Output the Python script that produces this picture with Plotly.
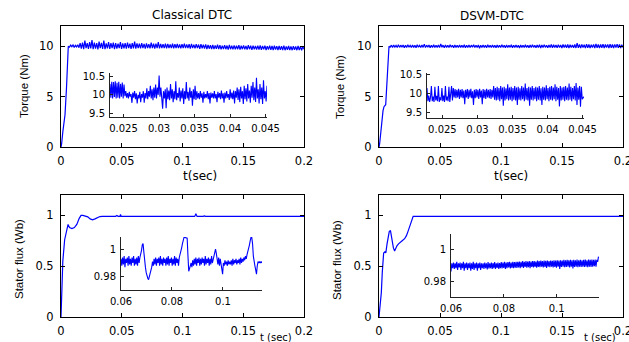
import numpy as np
import plotly.graph_objects as go

W, H = 629, 342

# ---------------- DATA ----------------
# Torque, classical DTC: start-up ramp then noisy band
t_rise_c = [0, 0.0005, 0.0015, 0.0033, 0.0045, 0.0055, 0.006]
T_rise_c = [0, 0.3, 1.5, 3.2, 5.8, 9.4, 9.9]
T_band_c = [
    10.0, 9.9, 10.1, 9.95, 10.12, 9.88, 10.08, 9.92, 10.15, 9.85, 10.3, 9.75, 10.35, 9.7, 10.55, 9.8, 10.3, 9.72, 10.4, 9.78,
    10.6, 9.7, 10.35, 9.75, 10.3, 9.68, 10.45, 9.8, 10.32, 9.72, 10.55, 9.7, 10.28, 9.78, 10.4, 9.74, 10.3, 9.8, 10.35, 9.7,
    10.3, 9.75, 10.25, 9.8, 10.4, 9.72, 10.28, 9.78, 10.3, 9.75, 10.35, 9.8, 10.25, 9.74, 10.3, 9.78, 10.45, 9.76, 10.28, 9.8,
    10.25, 9.78, 10.3, 9.8, 10.22, 9.76, 10.28, 9.82, 10.2, 9.78, 10.35, 9.8, 10.24, 9.77, 10.26, 9.8, 10.4, 9.78, 10.22, 9.82,
    10.2, 9.8, 10.25, 9.78, 10.22, 9.82, 10.18, 9.8, 10.24, 9.78, 10.2, 9.82, 10.22, 9.8, 10.18, 9.78, 10.2, 9.82, 10.25, 9.8,
    10.18, 9.8, 10.2, 9.76, 10.22, 9.8, 10.15, 9.78, 10.2, 9.8, 10.16, 9.74, 10.2, 9.78, 10.15, 9.76, 10.18, 9.72, 10.12, 9.75,
    10.1, 9.72, 10.12, 9.7, 10.08, 9.74, 10.15, 9.7, 10.1, 9.68, 10.05, 9.72, 10.1, 9.7, 10.06, 9.66, 10.12, 9.7, 10.05, 9.68,
    10.08, 9.68, 10.05, 9.7, 10.1, 9.66, 10.04, 9.7, 10.08, 9.68, 10.02, 9.66, 10.1, 9.7, 10.05, 9.64, 10.06, 9.68, 10.02, 9.66,
    10.05, 9.66, 10.08, 9.64, 10.02, 9.68, 10.05, 9.62, 10.0, 9.66, 10.06, 9.64, 10.02, 9.62, 10.04, 9.66, 10.0, 9.62, 10.03, 9.64,
    10.0, 9.62, 10.04, 9.6, 9.98, 9.64, 10.02, 9.62, 9.98, 9.6, 10.0, 9.64, 9.98, 9.6, 10.02, 9.62, 9.96, 9.6, 9.98, 9.7,
]
t_band_c = np.linspace(0.006, 0.2, len(T_band_c))

# Torque, DSVM-DTC
t_rise_d = [0, 0.0005, 0.0033, 0.0041, 0.0055, 0.0066, 0.0074, 0.0082]
T_rise_d = [0, 0.3, 3.6, 4.0, 4.2, 6.6, 8.8, 9.95]
T_band_d = [
    10.0, 9.9, 10.1, 9.88, 10.12, 9.9, 10.08, 9.86, 10.15, 9.88, 10.1, 9.9, 10.12, 9.85, 10.1, 9.88, 10.14, 9.9, 10.08, 9.86,
    10.12, 9.88, 10.1, 9.84, 10.15, 9.9, 10.08, 9.86, 10.12, 9.88, 10.2, 9.86, 10.1, 9.9, 10.12, 9.84, 10.1, 9.88, 10.14, 9.86,
    10.1, 9.88, 10.12, 9.86, 10.22, 9.9, 10.1, 9.84, 10.12, 9.88, 10.1, 9.86, 10.14, 9.9, 10.08, 9.84, 10.12, 9.88, 10.1, 9.86,
    10.12, 9.88, 10.1, 9.86, 10.14, 9.84, 10.1, 9.88, 10.12, 9.86, 10.1, 9.9, 10.15, 9.86, 10.1, 9.88, 10.12, 9.8, 10.1, 9.86,
    10.12, 9.88, 10.1, 9.85, 10.14, 9.88, 10.1, 9.86, 10.12, 9.88, 10.1, 9.84, 10.12, 9.88, 10.1, 9.86, 10.14, 9.88, 10.1, 9.85,
    10.12, 9.86, 10.1, 9.88, 10.14, 9.84, 10.1, 9.88, 10.12, 9.86, 10.1, 9.82, 10.12, 9.88, 10.1, 9.86, 10.14, 9.88, 10.1, 9.84,
    10.12, 9.86, 10.14, 9.88, 10.1, 9.84, 10.12, 9.86, 10.15, 9.82, 10.12, 9.86, 10.14, 9.88, 10.1, 9.84, 10.12, 9.86, 10.16, 9.84,
    10.14, 9.86, 10.12, 9.84, 10.15, 9.86, 10.12, 9.82, 10.16, 9.86, 10.14, 9.84, 10.18, 9.82, 10.14, 9.86, 10.12, 9.84, 10.16, 9.82,
    10.3, 9.84, 10.16, 9.82, 10.18, 9.86, 10.14, 9.8, 10.2, 9.84, 10.16, 9.82, 10.14, 9.86, 10.18, 9.8, 10.22, 9.84, 10.16, 9.82,
    10.18, 9.84, 10.2, 9.82, 10.16, 9.86, 10.18, 9.82, 10.2, 9.84, 10.16, 9.82, 10.18, 9.86, 10.2, 9.84, 10.16, 9.82, 10.14, 9.86,
]
t_band_d = np.linspace(0.0082, 0.2, len(T_band_d))

# Torque zoom, classical (0.0231 .. 0.0452 s)
Tz_c = [
    10.3, 9.92, 10.36, 9.9, 10.35, 9.94, 10.37, 9.9, 10.33, 9.92, 10.36, 9.9, 10.3, 9.95, 10.34, 9.9, 10.28, 9.96, 10.1, 9.92,
    10.05, 9.9, 10.08, 9.95, 10.02, 9.78, 10.06, 9.92, 10.1, 9.88, 10.04, 9.76, 10.0, 9.9, 10.08, 9.8, 10.02, 9.92, 10.1, 9.78,
    10.05, 9.9, 10.18, 9.88, 10.1, 9.95, 10.25, 9.9, 10.15, 9.85, 10.2, 9.92, 10.28, 9.9, 10.2, 10.0, 10.53, 9.95, 10.2, 9.85,
    9.62, 10.1, 9.9, 10.15, 9.63, 10.2, 9.88, 10.12, 9.85, 10.3, 9.9, 10.15, 9.8, 10.1, 9.88, 10.37, 9.85, 10.05, 9.92, 10.2,
    9.82, 10.12, 9.9, 10.18, 9.75, 10.1, 9.88, 10.35, 9.9, 10.08, 9.84, 10.2, 9.92, 10.1, 9.7, 10.15, 9.88, 10.25, 9.86, 10.1,
    9.9, 10.05, 9.88, 10.1, 9.92, 10.04, 9.78, 10.08, 9.9, 10.02, 9.92, 10.1, 9.88, 10.05, 9.76, 10.06, 9.92, 10.04, 9.9, 10.1,
    9.9, 10.02, 9.8, 10.08, 9.92, 10.05, 9.88, 10.12, 9.9, 10.04, 9.78, 10.06, 9.9, 10.1, 9.92, 10.02, 9.86, 10.15, 9.9, 10.06,
    9.88, 10.12, 9.76, 10.1, 9.92, 10.2, 9.86, 10.15, 9.8, 10.22, 9.9, 10.1, 9.75, 10.25, 9.88, 10.18, 9.82, 10.3, 9.9, 10.12,
    9.78, 10.25, 9.92, 10.35, 9.85, 10.2, 9.8, 10.47, 9.9, 10.15, 9.76, 10.3, 9.88, 10.2, 9.75, 10.4, 9.9, 10.1, 9.82, 10.25,
]
tz_c = np.linspace(0.0231, 0.0452, len(Tz_c))

# Torque zoom, DSVM (0.0228 .. 0.0452 s)
Tz_d = [
    10.15, 9.8, 9.95, 9.78, 9.9, 10.2, 9.8, 9.92, 9.78, 10.18, 9.82, 9.94, 9.8, 10.2, 9.78, 9.9, 9.82, 10.15, 9.8, 9.95,
    9.78, 10.2, 9.82, 9.92, 9.8, 10.18, 9.78, 9.95, 10.2, 9.82, 10.15, 9.9, 10.12, 9.88, 10.1, 9.9, 10.13, 9.86, 10.1, 9.9,
    10.12, 9.88, 10.08, 9.72, 10.1, 9.9, 10.12, 9.86, 10.1, 9.9, 10.13, 9.88, 10.06, 9.7, 10.1, 9.88, 10.12, 9.9, 10.1, 9.86,
    10.13, 9.9, 10.08, 9.72, 10.12, 9.88, 10.1, 9.86, 10.13, 9.9, 10.1, 9.88, 10.12, 9.86, 10.1, 9.9, 10.2, 9.84, 10.15, 9.82,
    10.18, 9.84, 10.15, 9.8, 10.2, 9.85, 10.16, 9.68, 10.18, 9.82, 10.14, 9.85, 10.25, 9.82, 10.16, 9.84, 10.18, 9.8, 10.15, 9.84,
    10.2, 9.82, 10.16, 9.7, 10.18, 9.84, 10.14, 9.82, 10.2, 9.85, 10.16, 9.8, 10.27, 9.84, 10.15, 9.82, 10.18, 9.68, 10.16, 9.84,
    10.2, 9.82, 10.15, 9.85, 10.18, 9.8, 10.16, 9.84, 10.2, 9.82, 10.14, 9.7, 10.18, 9.84, 10.16, 9.82, 10.22, 9.85, 10.15, 9.8,
    10.18, 9.84, 10.2, 9.82, 10.16, 9.85, 10.25, 9.8, 10.18, 9.84, 10.15, 9.66, 10.2, 9.82, 10.16, 9.84, 10.18, 9.8, 10.2, 9.84,
    10.16, 9.82, 10.27, 9.84, 10.18, 9.8, 10.15, 9.85, 10.2, 9.82, 10.28, 9.7, 10.16, 9.84, 10.2, 9.65, 10.18, 9.85, 9.9, 9.92,
]
tz_d = np.linspace(0.0228, 0.0452, len(Tz_d))

# Stator flux, classical DTC
t_fc = [0, 0.0007, 0.0015, 0.003, 0.0045, 0.0058, 0.007, 0.009, 0.011, 0.013,
        0.015, 0.0165, 0.018, 0.020, 0.022, 0.024, 0.026, 0.028, 0.030, 0.032,
        0.034, 0.040, 0.041, 0.042, 0.045, 0.046, 0.047, 0.0485, 0.049, 0.0495,
        0.058, 0.059, 0.060, 0.061, 0.062, 0.067, 0.068, 0.069, 0.074, 0.075,
        0.076, 0.082, 0.083, 0.084, 0.087, 0.088, 0.089, 0.099, 0.100, 0.101,
        0.110, 0.1105, 0.111, 0.1115, 0.112, 0.117, 0.118, 0.119, 0.139, 0.140,
        0.141, 0.154, 0.155, 0.156, 0.167, 0.168, 0.169, 0.178, 0.179, 0.180,
        0.189, 0.190, 0.191, 0.2]
F_c = [0, 0.3, 0.55, 0.76, 0.86, 0.91, 0.88, 0.87, 0.88, 0.91,
       0.97, 1.0, 1.0, 0.995, 0.985, 0.965, 0.955, 0.965, 0.978, 0.988,
       0.99, 0.99, 0.996, 0.99, 0.99, 0.998, 0.99, 0.99, 1.01, 0.99,
       0.99, 0.995, 0.99, 0.997, 0.99, 0.99, 0.995, 0.99, 0.99, 0.997,
       0.99, 0.99, 0.995, 0.99, 0.99, 0.997, 0.99, 0.99, 0.995, 0.99,
       0.99, 1.0, 1.015, 1.0, 0.99, 0.99, 0.995, 0.99, 0.99, 0.995,
       0.99, 0.99, 0.997, 0.99, 0.99, 0.996, 0.99, 0.99, 0.996, 0.99,
       0.99, 0.995, 0.99, 0.99]

# Stator flux, DSVM-DTC
t_fd = [0, 0.0005, 0.0019, 0.0027, 0.0038, 0.0048, 0.0056, 0.0066, 0.0076, 0.0084,
        0.0094, 0.0105, 0.0118, 0.0128, 0.0138, 0.0147, 0.016, 0.0175, 0.019, 0.021,
        0.0225, 0.024, 0.0255, 0.027, 0.028, 0.05, 0.0505, 0.051, 0.115, 0.1155,
        0.116, 0.12, 0.1205, 0.121, 0.165, 0.1655, 0.166, 0.2]
F_d = [0, 0.05, 0.24, 0.44, 0.63, 0.64, 0.63, 0.72, 0.8, 0.84,
       0.85, 0.76, 0.68, 0.65, 0.68, 0.7, 0.72, 0.74, 0.75, 0.77,
       0.8, 0.85, 0.91, 0.96, 0.99, 0.99, 0.993, 0.99, 0.99, 0.994,
       0.99, 0.99, 0.993, 0.99, 0.99, 0.994, 0.99, 0.99]

# Flux zoom, classical (0.06 .. 0.1153 s)
Fz_c = [
    0.993, 0.988, 0.994, 0.989, 0.995, 0.987, 0.993, 0.99, 0.994, 0.988, 0.995, 0.989, 0.993, 0.988, 0.994, 0.99, 0.995, 0.988, 0.993, 0.989,
    0.994, 0.988, 0.995, 0.99, 0.994, 0.996, 0.999, 1.003, 1.004, 0.998, 0.99, 0.987, 0.983, 0.98, 0.979, 0.978, 0.98, 0.982, 0.985, 0.987,
    0.991, 0.988, 0.993, 0.989, 0.994, 0.988, 0.993, 0.99, 0.994, 0.988, 0.995, 0.989, 0.993, 0.988, 0.994, 0.99, 0.993, 0.988, 0.994, 0.989,
    0.995, 0.988, 0.993, 0.99, 0.994, 0.988, 0.993, 0.989, 0.995, 0.988, 0.994, 0.99, 0.993, 0.988, 0.994, 0.996, 0.999, 1.001, 1.004, 1.008,
    1.0085, 1.0085, 1.0085, 1.0085, 1.008, 0.995, 0.984, 0.986, 0.988, 0.99, 0.987, 0.992, 0.988, 0.993, 0.989, 0.994, 0.988, 0.993, 0.99, 0.994,
    0.988, 0.993, 0.989, 0.994, 0.99, 0.993, 0.988, 0.995, 0.989, 0.993, 0.99, 0.994, 0.988, 0.993, 0.989, 0.995, 0.99, 0.993, 0.996, 0.998,
    1.0, 0.997, 0.992, 0.989, 0.994, 0.988, 0.993, 0.99, 0.986, 0.982, 0.99, 0.988, 0.992, 0.989, 0.991, 0.988, 0.992, 0.989, 0.991, 0.989,
    0.992, 0.988, 0.993, 0.989, 0.992, 0.99, 0.993, 0.989, 0.992, 0.99, 0.993, 0.989, 0.994, 0.99, 0.993, 0.991, 0.994, 0.992, 0.995, 0.993,
    0.996, 0.998, 1.001, 1.003, 1.006, 1.0085, 1.0085, 1.004, 0.995, 0.99, 0.988, 0.985, 0.982, 0.988, 0.991, 0.99, 0.991, 0.99, 0.991, 0.99,
]
fz_c = np.linspace(0.06, 0.1153, len(Fz_c))

# Flux zoom, DSVM (0.06 .. 0.1158 s)
Fz_d = [
    0.986, 0.991, 0.988, 0.9915, 0.9875, 0.991, 0.988, 0.992, 0.987, 0.991, 0.9885, 0.9915, 0.987, 0.991, 0.988, 0.992, 0.9865, 0.991, 0.988, 0.9915,
    0.987, 0.991, 0.988, 0.9915, 0.9865, 0.991, 0.9875, 0.992, 0.987, 0.991, 0.988, 0.9915, 0.9865, 0.991, 0.988, 0.9915, 0.987, 0.991, 0.988, 0.991,
    0.9875, 0.9915, 0.988, 0.991, 0.9872, 0.9918, 0.9878, 0.991, 0.988, 0.9915, 0.9875, 0.9912, 0.988, 0.9918, 0.9876, 0.991, 0.9882, 0.9915, 0.9875, 0.9912,
    0.988, 0.9918, 0.9878, 0.9915, 0.9882, 0.992, 0.9876, 0.9915, 0.988, 0.9918, 0.9885, 0.992, 0.9878, 0.9916, 0.9882, 0.992, 0.988, 0.9918, 0.9884, 0.992,
    0.9882, 0.992, 0.9885, 0.9922, 0.988, 0.992, 0.9886, 0.9924, 0.9882, 0.992, 0.9888, 0.9925, 0.9884, 0.9922, 0.9886, 0.9925, 0.988, 0.9922, 0.9888, 0.9925,
    0.9885, 0.9925, 0.9888, 0.9922, 0.9884, 0.9928, 0.9888, 0.9925, 0.9886, 0.9928, 0.989, 0.9925, 0.9885, 0.9928, 0.9888, 0.9926, 0.9882, 0.9928, 0.989, 0.9925,
    0.9886, 0.9928, 0.989, 0.9926, 0.9885, 0.993, 0.9888, 0.9928, 0.9884, 0.993, 0.989, 0.9928, 0.9876, 0.993, 0.9888, 0.9928, 0.989, 0.9932, 0.9886, 0.993,
    0.9888, 0.9932, 0.989, 0.993, 0.9885, 0.9932, 0.989, 0.993, 0.9878, 0.9932, 0.9888, 0.993, 0.989, 0.9934, 0.9886, 0.993, 0.989, 0.9932, 0.9888, 0.993,
    0.989, 0.9932, 0.9888, 0.9934, 0.989, 0.993, 0.9886, 0.9934, 0.989, 0.9932, 0.9888, 0.9934, 0.989, 0.9932, 0.9892, 0.9934, 0.989, 0.9932, 0.992, 0.9952,
]
fz_d = np.linspace(0.06, 0.1158, len(Fz_d))

assert len(t_rise_c) == len(T_rise_c) and len(t_rise_d) == len(T_rise_d)
assert len(t_fc) == len(F_c) and len(t_fd) == len(F_d)

# tick labels
main_t_ticks = [0, 0.05, 0.1, 0.15, 0.2]
main_t_text = ["0", "0.05", "0.1", "0.15", "0.2"]
torque_ticks = [0, 5, 10]
flux_ticks = [0, 0.5, 1]
flux_text = ["0", "0.5", "1"]
tz_ticks = [0.025, 0.03, 0.035, 0.04, 0.045]
tz_text = ["0.025", "0.03", "0.035", "0.04", "0.045"]
tzy_ticks = [9.5, 10, 10.5]
tzy_text = ["9.5", "10", "10.5"]
fz_ticks = [0.06, 0.08, 0.1]
fz_text = ["0.06", "0.08", "0.1"]
fzy_ticks = [0.98, 1.0]
fzy_text = ["0.98", "1"]

# ---------------- FIGURE ----------------
BLUE = "#0000ff"
FONT = "DejaVu Sans"
fig = go.Figure()

def line(x, y, n, w=1.2):
    ax = "" if n == 1 else str(n)
    fig.add_trace(go.Scatter(x=x, y=y, mode="lines", line=dict(color=BLUE, width=w),
                             xaxis="x" + ax, yaxis="y" + ax, showlegend=False, hoverinfo="skip"))

line(list(t_rise_c) + list(t_band_c), list(T_rise_c) + list(T_band_c), 1)
line(list(t_rise_d) + list(t_band_d), list(T_rise_d) + list(T_band_d), 2)
line(t_fc, F_c, 3)
line(t_fd, F_d, 4)
line(tz_c, Tz_c, 5, 1.1)
line(tz_d, Tz_d, 6, 1.1)
line(fz_c, Fz_c, 7, 1.1)
line(fz_d, Fz_d, 8, 1.1)

def dx(a, b):
    return [a / W, b / W]

def dy(top, bot):
    return [1 - bot / H, 1 - top / H]

COMMON = dict(showgrid=False, zeroline=False, automargin=False)

def main_x(dom, anchor):
    return dict(domain=dom, anchor=anchor, range=[0, 0.2], tickvals=main_t_ticks, ticktext=main_t_text,
                showline=True, mirror="ticks", linecolor="black", linewidth=1, ticks="inside", ticklen=4,
                tickcolor="black", tickfont=dict(family=FONT, size=11.5, color="black"),
                ticklabelstandoff=3, ticklabeloverflow="allow", **COMMON)

def main_y(dom, anchor, rng, tv, tt):
    return dict(domain=dom, anchor=anchor, range=rng, tickvals=tv, ticktext=tt,
                showline=True, mirror="ticks", linecolor="black", linewidth=1, ticks="inside", ticklen=4,
                tickcolor="black", tickfont=dict(family=FONT, size=11.5, color="black"),
                ticklabelstandoff=4, **COMMON)

def ins_x(dom, anchor, rng, tv, tt):
    return dict(domain=dom, anchor=anchor, range=rng, tickvals=tv, ticktext=tt,
                showline=True, mirror=False, linecolor="#222222", linewidth=1, ticks="inside", ticklen=3,
                tickcolor="#222222", tickfont=dict(family=FONT, size=10, color="black"),
                ticklabelstandoff=2, **COMMON)

def ins_y(dom, anchor, rng, tv, tt):
    return dict(domain=dom, anchor=anchor, range=rng, tickvals=tv, ticktext=tt,
                showline=True, mirror=False, linecolor="#222222", linewidth=1, ticks="inside", ticklen=3,
                tickcolor="#222222", tickfont=dict(family=FONT, size=10, color="black"),
                ticklabelstandoff=2, **COMMON)

layout = dict(
    width=W, height=H, margin=dict(l=0, r=0, t=0, b=0, autoexpand=False),
    paper_bgcolor="white", plot_bgcolor="rgba(0,0,0,0)", showlegend=False,
    xaxis=main_x(dx(61, 304), "y"), yaxis=main_y(dy(26, 147), "x", [0, 12], torque_ticks, ["0", "5", "10"]),
    xaxis2=main_x(dx(379, 623), "y2"), yaxis2=main_y(dy(26, 147), "x2", [0, 12], torque_ticks, ["0", "5", "10"]),
    xaxis3=main_x(dx(61, 304), "y3"), yaxis3=main_y(dy(195, 317), "x3", [0, 1.2], flux_ticks, flux_text),
    xaxis4=main_x(dx(379, 623), "y4"), yaxis4=main_y(dy(195, 317), "x4", [0, 1.2], flux_ticks, flux_text),
    xaxis5=ins_x(dx(110, 267), "y5", [0.0231, 0.0452], tz_ticks, tz_text),
    yaxis5=ins_y(dy(73, 117), "x5", [9.39, 10.6], tzy_ticks, tzy_text),
    xaxis6=ins_x(dx(427, 584), "y6", [0.0228, 0.0452], tz_ticks, tz_text),
    yaxis6=ins_y(dy(73, 118), "x6", [9.35, 10.55], tzy_ticks, tzy_text),
    xaxis7=ins_x(dx(121, 262), "y7", [0.06, 0.1153], fz_ticks, fz_text),
    yaxis7=ins_y(dy(237, 290), "x7", [0.9705, 1.0088], fzy_ticks, fzy_text),
    xaxis8=ins_x(dx(451, 599), "y8", [0.06, 0.116], fz_ticks, fz_text),
    yaxis8=ins_y(dy(234, 297), "x8", [0.97, 1.0094], fzy_ticks, fzy_text),
)
fig.update_layout(**layout)

def note(text, px, py, size, angle=0, family=FONT):
    fig.add_annotation(text=text, x=px / W, y=1 - py / H, xref="paper", yref="paper",
                       showarrow=False, textangle=angle, xanchor="center", yanchor="middle",
                       font=dict(family=family, size=size, color="black"))

note("Classical DTC", 192, 15, 12)
note("DSVM-DTC", 492, 16, 12)
note("t(sec)", 200, 176, 12)
note("t(sec)", 511, 176, 12)
note("t (sec)", 276, 337, 10)
note("t (sec)", 600, 337, 10)
note("Torque (Nm)", 24, 86, 11.5, -90, "Liberation Sans")
note("Torque (Nm)", 340, 87, 11.5, -90, "Liberation Sans")
note("Stator flux (Wb)", 19, 259, 11.5, -90, "Liberation Sans")
note("Stator flux (Wb)", 337, 260, 11.5, -90, "Liberation Sans")

fig.write_html("out.html")
